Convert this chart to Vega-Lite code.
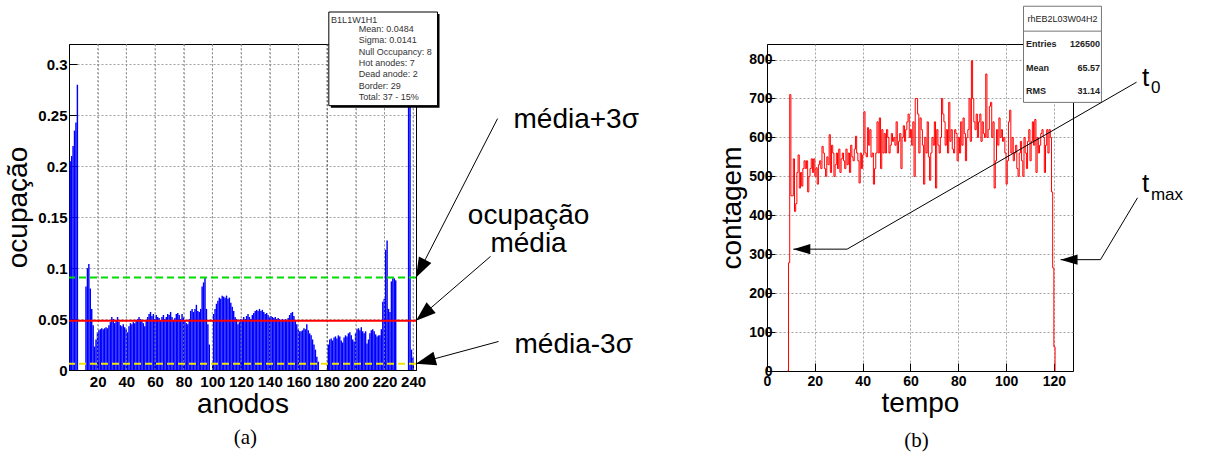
{
  "$schema": "https://vega.github.io/schema/vega-lite/v6.json",
  "padding": {"left": 4, "top": 5, "right": 10, "bottom": 8},
  "bounds": "flush",
  "spacing": 351,
  "config": {
    "font": "Liberation Sans",
    "view": {"stroke": "#000", "strokeWidth": 1},
    "axis": {
      "domainColor": "#000", "tickColor": "#000", "labelColor": "#000", "titleColor": "#000",
      "labelFont": "Liberation Sans", "labelFontWeight": "bold",
      "titleFont": "Liberation Sans", "titleFontWeight": "normal", "titleFontSize": 28,
      "gridColor": "#8c8c8c", "gridDash": [2, 2], "gridWidth": 0.8,
      "labelOverlap": false, "labelFlush": false
    }
  },
  "datasets": {
    "nota": [{}],
    "anodos": [
      {"anodo":0,"ocupacao":0.205},{"anodo":1,"ocupacao":0.21},{"anodo":2,"ocupacao":0.22},{"anodo":3,"ocupacao":0.235},{"anodo":4,"ocupacao":0.243},{"anodo":5,"ocupacao":0.28},
      {"anodo":6,"ocupacao":0},{"anodo":7,"ocupacao":0},{"anodo":8,"ocupacao":0},{"anodo":9,"ocupacao":0},{"anodo":10,"ocupacao":0},
      {"anodo":11,"ocupacao":0.082},{"anodo":12,"ocupacao":0.1},{"anodo":13,"ocupacao":0.104},{"anodo":14,"ocupacao":0.08},{"anodo":15,"ocupacao":0.06},
      {"anodo":16,"ocupacao":0.044},{"anodo":17,"ocupacao":0.023},{"anodo":18,"ocupacao":0.03},{"anodo":19,"ocupacao":0.037},{"anodo":20,"ocupacao":0.039},
      {"anodo":21,"ocupacao":0.04},{"anodo":22,"ocupacao":0.041},{"anodo":23,"ocupacao":0.04},{"anodo":24,"ocupacao":0.041},{"anodo":25,"ocupacao":0.042},
      {"anodo":26,"ocupacao":0.041},{"anodo":27,"ocupacao":0.044},{"anodo":28,"ocupacao":0.047},{"anodo":29,"ocupacao":0.052},{"anodo":30,"ocupacao":0.05},
      {"anodo":31,"ocupacao":0.046},{"anodo":32,"ocupacao":0.048},{"anodo":33,"ocupacao":0.052},{"anodo":34,"ocupacao":0.047},{"anodo":35,"ocupacao":0.044},
      {"anodo":36,"ocupacao":0.043},{"anodo":37,"ocupacao":0.045},{"anodo":38,"ocupacao":0.042},{"anodo":39,"ocupacao":0.04},{"anodo":40,"ocupacao":0.037},
      {"anodo":41,"ocupacao":0.043},{"anodo":42,"ocupacao":0.046},{"anodo":43,"ocupacao":0.045},{"anodo":44,"ocupacao":0.047},{"anodo":45,"ocupacao":0.046},
      {"anodo":46,"ocupacao":0.048},{"anodo":47,"ocupacao":0.05},{"anodo":48,"ocupacao":0.052},{"anodo":49,"ocupacao":0.05},{"anodo":50,"ocupacao":0.049},
      {"anodo":51,"ocupacao":0.046},{"anodo":52,"ocupacao":0.043},{"anodo":53,"ocupacao":0.048},{"anodo":54,"ocupacao":0.052},{"anodo":55,"ocupacao":0.055},
      {"anodo":56,"ocupacao":0.057},{"anodo":57,"ocupacao":0.053},{"anodo":58,"ocupacao":0.055},{"anodo":59,"ocupacao":0.05},{"anodo":60,"ocupacao":0.054},
      {"anodo":61,"ocupacao":0.052},{"anodo":62,"ocupacao":0.051},{"anodo":63,"ocupacao":0.049},{"anodo":64,"ocupacao":0.052},{"anodo":65,"ocupacao":0.054},
      {"anodo":66,"ocupacao":0.05},{"anodo":67,"ocupacao":0.052},{"anodo":68,"ocupacao":0.055},{"anodo":69,"ocupacao":0.054},{"anodo":70,"ocupacao":0.057},
      {"anodo":71,"ocupacao":0.052},{"anodo":72,"ocupacao":0.048},{"anodo":73,"ocupacao":0.051},{"anodo":74,"ocupacao":0.055},{"anodo":75,"ocupacao":0.056},
      {"anodo":76,"ocupacao":0.054},{"anodo":77,"ocupacao":0.05},{"anodo":78,"ocupacao":0.055},{"anodo":79,"ocupacao":0.052},{"anodo":80,"ocupacao":0.048},
      {"anodo":81,"ocupacao":0.046},{"anodo":82,"ocupacao":0.045},{"anodo":83,"ocupacao":0.05},{"anodo":84,"ocupacao":0.058},{"anodo":85,"ocupacao":0.06},
      {"anodo":86,"ocupacao":0.057},{"anodo":87,"ocupacao":0.06},{"anodo":88,"ocupacao":0.064},{"anodo":89,"ocupacao":0.058},{"anodo":90,"ocupacao":0.057},
      {"anodo":91,"ocupacao":0.06},{"anodo":92,"ocupacao":0.082},{"anodo":93,"ocupacao":0.086},{"anodo":94,"ocupacao":0.091},{"anodo":95,"ocupacao":0.06},
      {"anodo":96,"ocupacao":0.045},{"anodo":97,"ocupacao":0.025},{"anodo":98,"ocupacao":0},{"anodo":99,"ocupacao":0},{"anodo":100,"ocupacao":0.055},
      {"anodo":101,"ocupacao":0.06},{"anodo":102,"ocupacao":0.065},{"anodo":103,"ocupacao":0.068},{"anodo":104,"ocupacao":0.071},{"anodo":105,"ocupacao":0.07},
      {"anodo":106,"ocupacao":0.073},{"anodo":107,"ocupacao":0.072},{"anodo":108,"ocupacao":0.071},{"anodo":109,"ocupacao":0.073},{"anodo":110,"ocupacao":0.07},
      {"anodo":111,"ocupacao":0.071},{"anodo":112,"ocupacao":0.066},{"anodo":113,"ocupacao":0.062},{"anodo":114,"ocupacao":0.058},{"anodo":115,"ocupacao":0.052},
      {"anodo":116,"ocupacao":0.05},{"anodo":117,"ocupacao":0.045},{"anodo":118,"ocupacao":0.047},{"anodo":119,"ocupacao":0.05},{"anodo":120,"ocupacao":0.048},
      {"anodo":121,"ocupacao":0.052},{"anodo":122,"ocupacao":0.05},{"anodo":123,"ocupacao":0.053},{"anodo":124,"ocupacao":0.055},{"anodo":125,"ocupacao":0.052},
      {"anodo":126,"ocupacao":0.05},{"anodo":127,"ocupacao":0.054},{"anodo":128,"ocupacao":0.056},{"anodo":129,"ocupacao":0.058},{"anodo":130,"ocupacao":0.059},
      {"anodo":131,"ocupacao":0.058},{"anodo":132,"ocupacao":0.06},{"anodo":133,"ocupacao":0.058},{"anodo":134,"ocupacao":0.059},{"anodo":135,"ocupacao":0.057},
      {"anodo":136,"ocupacao":0.055},{"anodo":137,"ocupacao":0.056},{"anodo":138,"ocupacao":0.054},{"anodo":139,"ocupacao":0.052},{"anodo":140,"ocupacao":0.053},
      {"anodo":141,"ocupacao":0.052},{"anodo":142,"ocupacao":0.051},{"anodo":143,"ocupacao":0.052},{"anodo":144,"ocupacao":0.05},{"anodo":145,"ocupacao":0.051},
      {"anodo":146,"ocupacao":0.05},{"anodo":147,"ocupacao":0.049},{"anodo":148,"ocupacao":0.05},{"anodo":149,"ocupacao":0.048},{"anodo":150,"ocupacao":0.05},
      {"anodo":151,"ocupacao":0.049},{"anodo":152,"ocupacao":0.051},{"anodo":153,"ocupacao":0.054},{"anodo":154,"ocupacao":0.056},{"anodo":155,"ocupacao":0.057},
      {"anodo":156,"ocupacao":0.053},{"anodo":157,"ocupacao":0.049},{"anodo":158,"ocupacao":0.045},{"anodo":159,"ocupacao":0.04},{"anodo":160,"ocupacao":0.038},
      {"anodo":161,"ocupacao":0.038},{"anodo":162,"ocupacao":0.039},{"anodo":163,"ocupacao":0.041},{"anodo":164,"ocupacao":0.04},{"anodo":165,"ocupacao":0.045},
      {"anodo":166,"ocupacao":0.039},{"anodo":167,"ocupacao":0.036},{"anodo":168,"ocupacao":0.034},{"anodo":169,"ocupacao":0.03},{"anodo":170,"ocupacao":0.025},
      {"anodo":171,"ocupacao":0.02},{"anodo":172,"ocupacao":0.013},{"anodo":173,"ocupacao":0.008},{"anodo":174,"ocupacao":0},{"anodo":175,"ocupacao":0},
      {"anodo":176,"ocupacao":0},{"anodo":177,"ocupacao":0},{"anodo":178,"ocupacao":0},{"anodo":179,"ocupacao":0},{"anodo":180,"ocupacao":0.025},
      {"anodo":181,"ocupacao":0.03},{"anodo":182,"ocupacao":0.031},{"anodo":183,"ocupacao":0.029},{"anodo":184,"ocupacao":0.032},{"anodo":185,"ocupacao":0.033},
      {"anodo":186,"ocupacao":0.031},{"anodo":187,"ocupacao":0.034},{"anodo":188,"ocupacao":0.033},{"anodo":189,"ocupacao":0.029},{"anodo":190,"ocupacao":0.027},
      {"anodo":191,"ocupacao":0.032},{"anodo":192,"ocupacao":0.034},{"anodo":193,"ocupacao":0.033},{"anodo":194,"ocupacao":0.036},{"anodo":195,"ocupacao":0.037},
      {"anodo":196,"ocupacao":0.034},{"anodo":197,"ocupacao":0.03},{"anodo":198,"ocupacao":0.028},{"anodo":199,"ocupacao":0.036},{"anodo":200,"ocupacao":0.04},
      {"anodo":201,"ocupacao":0.041},{"anodo":202,"ocupacao":0.039},{"anodo":203,"ocupacao":0.042},{"anodo":204,"ocupacao":0.038},{"anodo":205,"ocupacao":0.036},
      {"anodo":206,"ocupacao":0.038},{"anodo":207,"ocupacao":0.026},{"anodo":208,"ocupacao":0.03},{"anodo":209,"ocupacao":0.036},{"anodo":210,"ocupacao":0.039},
      {"anodo":211,"ocupacao":0.04},{"anodo":212,"ocupacao":0.038},{"anodo":213,"ocupacao":0.035},{"anodo":214,"ocupacao":0.033},{"anodo":215,"ocupacao":0.034},
      {"anodo":216,"ocupacao":0.034},{"anodo":217,"ocupacao":0.04},{"anodo":218,"ocupacao":0.067},{"anodo":219,"ocupacao":0.07},{"anodo":220,"ocupacao":0.118},
      {"anodo":221,"ocupacao":0.127},{"anodo":222,"ocupacao":0.06},{"anodo":223,"ocupacao":0.057},{"anodo":224,"ocupacao":0.087},{"anodo":225,"ocupacao":0.09},
      {"anodo":226,"ocupacao":0.09},{"anodo":227,"ocupacao":0.088},{"anodo":228,"ocupacao":0},{"anodo":229,"ocupacao":0},{"anodo":230,"ocupacao":0},
      {"anodo":231,"ocupacao":0},{"anodo":232,"ocupacao":0},{"anodo":233,"ocupacao":0},{"anodo":234,"ocupacao":0},{"anodo":235,"ocupacao":0},
      {"anodo":236,"ocupacao":0.3},{"anodo":237,"ocupacao":0.3},{"anodo":238,"ocupacao":0.02},{"anodo":239,"ocupacao":0.012},{"anodo":240,"ocupacao":0},
      {"anodo":241,"ocupacao":0}
    ],
    "tempo": [
      {"t":8.5,"contagem":0},{"t":9,"contagem":278},{"t":9.5,"contagem":710},{"t":10,"contagem":450},{"t":10.5,"contagem":450},
      {"t":11,"contagem":545},{"t":11.5,"contagem":410},{"t":12,"contagem":430},{"t":12.5,"contagem":510},{"t":13,"contagem":555},
      {"t":13.5,"contagem":470},{"t":14,"contagem":510},{"t":14.5,"contagem":475},{"t":15,"contagem":520},{"t":15.5,"contagem":540},
      {"t":16,"contagem":520},{"t":16.5,"contagem":540},{"t":17,"contagem":460},{"t":17.5,"contagem":500},{"t":18,"contagem":520},
      {"t":18.5,"contagem":545},{"t":19,"contagem":510},{"t":19.5,"contagem":545},{"t":20,"contagem":500},{"t":20.5,"contagem":522},
      {"t":21,"contagem":480},{"t":21.5,"contagem":530},{"t":22,"contagem":540},{"t":22.5,"contagem":520},{"t":23,"contagem":577},
      {"t":23.5,"contagem":560},{"t":24,"contagem":520},{"t":24.5,"contagem":500},{"t":25,"contagem":550},{"t":25.5,"contagem":530},
      {"t":26,"contagem":607},{"t":26.5,"contagem":510},{"t":27,"contagem":580},{"t":27.5,"contagem":560},{"t":28,"contagem":500},
      {"t":28.5,"contagem":530},{"t":29,"contagem":560},{"t":29.5,"contagem":520},{"t":30,"contagem":570},{"t":30.5,"contagem":510},
      {"t":31,"contagem":545},{"t":31.5,"contagem":560},{"t":32,"contagem":540},{"t":32.5,"contagem":520},{"t":33,"contagem":570},
      {"t":33.5,"contagem":530},{"t":34,"contagem":560},{"t":34.5,"contagem":510},{"t":35,"contagem":580},{"t":35.5,"contagem":550},
      {"t":36,"contagem":540},{"t":36.5,"contagem":570},{"t":37,"contagem":603},{"t":37.5,"contagem":560},{"t":38,"contagem":540},
      {"t":38.5,"contagem":483},{"t":39,"contagem":560},{"t":39.5,"contagem":520},{"t":40,"contagem":555},{"t":40.5,"contagem":666},
      {"t":41,"contagem":560},{"t":41.5,"contagem":550},{"t":42,"contagem":625},{"t":42.5,"contagem":580},{"t":43,"contagem":620},
      {"t":43.5,"contagem":550},{"t":44,"contagem":560},{"t":44.5,"contagem":480},{"t":45,"contagem":520},{"t":45.5,"contagem":560},
      {"t":46,"contagem":640},{"t":46.5,"contagem":560},{"t":47,"contagem":650},{"t":47.5,"contagem":520},{"t":48,"contagem":620},
      {"t":48.5,"contagem":560},{"t":49,"contagem":610},{"t":49.5,"contagem":560},{"t":50,"contagem":620},{"t":50.5,"contagem":600},
      {"t":51,"contagem":560},{"t":51.5,"contagem":580},{"t":52,"contagem":610},{"t":52.5,"contagem":590},{"t":53,"contagem":600},
      {"t":53.5,"contagem":580},{"t":54,"contagem":640},{"t":54.5,"contagem":560},{"t":55,"contagem":590},{"t":55.5,"contagem":610},
      {"t":56,"contagem":520},{"t":56.5,"contagem":600},{"t":57,"contagem":630},{"t":57.5,"contagem":590},{"t":58,"contagem":620},
      {"t":58.5,"contagem":640},{"t":59,"contagem":660},{"t":59.5,"contagem":600},{"t":60,"contagem":620},{"t":60.5,"contagem":580},
      {"t":61,"contagem":640},{"t":61.5,"contagem":500},{"t":62,"contagem":700},{"t":62.5,"contagem":700},{"t":63,"contagem":660},
      {"t":63.5,"contagem":560},{"t":64,"contagem":650},{"t":64.5,"contagem":620},{"t":65,"contagem":580},{"t":65.5,"contagem":480},
      {"t":66,"contagem":600},{"t":66.5,"contagem":560},{"t":67,"contagem":640},{"t":67.5,"contagem":550},{"t":68,"contagem":490},
      {"t":68.5,"contagem":560},{"t":69,"contagem":600},{"t":69.5,"contagem":580},{"t":70,"contagem":640},{"t":70.5,"contagem":470},
      {"t":71,"contagem":620},{"t":71.5,"contagem":580},{"t":72,"contagem":560},{"t":72.5,"contagem":600},{"t":73,"contagem":700},
      {"t":73.5,"contagem":660},{"t":74,"contagem":640},{"t":74.5,"contagem":580},{"t":75,"contagem":620},{"t":75.5,"contagem":560},
      {"t":76,"contagem":690},{"t":76.5,"contagem":590},{"t":77,"contagem":620},{"t":77.5,"contagem":570},{"t":78,"contagem":560},
      {"t":78.5,"contagem":620},{"t":79,"contagem":610},{"t":79.5,"contagem":540},{"t":80,"contagem":600},{"t":80.5,"contagem":560},
      {"t":81,"contagem":640},{"t":81.5,"contagem":580},{"t":82,"contagem":650},{"t":82.5,"contagem":610},{"t":83,"contagem":540},
      {"t":83.5,"contagem":600},{"t":84,"contagem":620},{"t":84.5,"contagem":700},{"t":85,"contagem":590},{"t":85.5,"contagem":797},
      {"t":86,"contagem":700},{"t":86.5,"contagem":640},{"t":87,"contagem":620},{"t":87.5,"contagem":660},{"t":88,"contagem":600},
      {"t":88.5,"contagem":640},{"t":89,"contagem":660},{"t":89.5,"contagem":590},{"t":90,"contagem":640},{"t":90.5,"contagem":610},
      {"t":91,"contagem":600},{"t":91.5,"contagem":763},{"t":92,"contagem":600},{"t":92.5,"contagem":620},{"t":93,"contagem":680},
      {"t":93.5,"contagem":690},{"t":94,"contagem":600},{"t":94.5,"contagem":640},{"t":95,"contagem":470},{"t":95.5,"contagem":540},
      {"t":96,"contagem":620},{"t":96.5,"contagem":580},{"t":97,"contagem":650},{"t":97.5,"contagem":600},{"t":98,"contagem":620},
      {"t":98.5,"contagem":590},{"t":99,"contagem":600},{"t":99.5,"contagem":560},{"t":100,"contagem":480},{"t":100.5,"contagem":540},
      {"t":101,"contagem":640},{"t":101.5,"contagem":670},{"t":102,"contagem":560},{"t":102.5,"contagem":600},{"t":103,"contagem":540},
      {"t":103.5,"contagem":560},{"t":104,"contagem":580},{"t":104.5,"contagem":520},{"t":105,"contagem":500},{"t":105.5,"contagem":560},
      {"t":106,"contagem":590},{"t":106.5,"contagem":540},{"t":107,"contagem":500},{"t":107.5,"contagem":600},{"t":108,"contagem":560},
      {"t":108.5,"contagem":520},{"t":109,"contagem":590},{"t":109.5,"contagem":620},{"t":110,"contagem":540},{"t":110.5,"contagem":590},
      {"t":111,"contagem":640},{"t":111.5,"contagem":580},{"t":112,"contagem":646},{"t":112.5,"contagem":510},{"t":113,"contagem":600},
      {"t":113.5,"contagem":560},{"t":114,"contagem":580},{"t":114.5,"contagem":610},{"t":115,"contagem":620},{"t":115.5,"contagem":600},
      {"t":116,"contagem":510},{"t":116.5,"contagem":580},{"t":117,"contagem":620},{"t":117.5,"contagem":560},{"t":118,"contagem":620},
      {"t":118.5,"contagem":600},{"t":119,"contagem":460},{"t":119.5,"contagem":265},{"t":120,"contagem":62},{"t":120.5,"contagem":0}
    ]
  },
  "hconcat": [
    {
      "width": 347,
      "height": 326,
      "layer": [
        {
          "data": {"name": "anodos"},
          "mark": {"type": "bar", "color": "#0000ff", "binSpacing": 0},
          "encoding": {
            "x": {
              "field": "anodo", "type": "quantitative", "bin": {"binned": true, "step": 1},
              "scale": {"domain": [0, 242], "nice": false, "zero": false},
              "axis": {
                "title": "anodos", "format": "d", "grid": true,
                "values": [20, 40, 60, 80, 100, 120, 140, 160, 180, 200, 220, 240],
                "tickSize": -8,
                "labelFontSize": 15, "labelPadding": 12, "titlePadding": 1
              }
            },
            "y": {
              "field": "ocupacao", "type": "quantitative",
              "scale": {"domain": [0, 0.32], "nice": false},
              "axis": {
                "title": "ocupação", "format": ".2~f", "grid": true,
                "values": [0, 0.05, 0.1, 0.15, 0.2, 0.25, 0.3],
                "tickSize": -8,
                "labelFontSize": 15, "labelPadding": 10, "titlePadding": 5
              }
            }
          }
        },
        {"data": {"name": "nota"}, "mark": {"type": "rule", "color": "#8c8c8c", "strokeDash": [2, 2], "strokeWidth": 0.8}, "encoding": {"x": {"datum": 20}}},
        {"data": {"name": "nota"}, "mark": {"type": "rule", "color": "#8c8c8c", "strokeDash": [2, 2], "strokeWidth": 0.8}, "encoding": {"x": {"datum": 40}}},
        {"data": {"name": "nota"}, "mark": {"type": "rule", "color": "#8c8c8c", "strokeDash": [2, 2], "strokeWidth": 0.8}, "encoding": {"x": {"datum": 60}}},
        {"data": {"name": "nota"}, "mark": {"type": "rule", "color": "#8c8c8c", "strokeDash": [2, 2], "strokeWidth": 0.8}, "encoding": {"x": {"datum": 80}}},
        {"data": {"name": "nota"}, "mark": {"type": "rule", "color": "#8c8c8c", "strokeDash": [2, 2], "strokeWidth": 0.8}, "encoding": {"x": {"datum": 100}}},
        {"data": {"name": "nota"}, "mark": {"type": "rule", "color": "#8c8c8c", "strokeDash": [2, 2], "strokeWidth": 0.8}, "encoding": {"x": {"datum": 120}}},
        {"data": {"name": "nota"}, "mark": {"type": "rule", "color": "#8c8c8c", "strokeDash": [2, 2], "strokeWidth": 0.8}, "encoding": {"x": {"datum": 140}}},
        {"data": {"name": "nota"}, "mark": {"type": "rule", "color": "#8c8c8c", "strokeDash": [2, 2], "strokeWidth": 0.8}, "encoding": {"x": {"datum": 160}}},
        {"data": {"name": "nota"}, "mark": {"type": "rule", "color": "#333", "strokeDash": [2, 2], "strokeWidth": 0.8}, "encoding": {"x": {"datum": 180}}},
        {"data": {"name": "nota"}, "mark": {"type": "rule", "color": "#8c8c8c", "strokeDash": [2, 2], "strokeWidth": 0.8}, "encoding": {"x": {"datum": 200}}},
        {"data": {"name": "nota"}, "mark": {"type": "rule", "color": "#8c8c8c", "strokeDash": [2, 2], "strokeWidth": 0.8}, "encoding": {"x": {"datum": 220}}},
        {"data": {"name": "nota"}, "mark": {"type": "rule", "color": "#8c8c8c", "strokeDash": [2, 2], "strokeWidth": 0.8}, "encoding": {"x": {"datum": 240}}},
        {"data": {"name": "nota"}, "mark": {"type": "rule", "color": "#00dd00", "strokeDash": [7, 4], "strokeWidth": 2}, "encoding": {"y": {"datum": 0.0907}}},
        {"data": {"name": "nota"}, "mark": {"type": "rule", "color": "#ff0000", "strokeWidth": 2}, "encoding": {"y": {"datum": 0.0484}}},
        {"data": {"name": "nota"}, "mark": {"type": "rule", "color": "#f2e600", "strokeDash": [7, 4], "strokeWidth": 2}, "encoding": {"y": {"datum": 0.0061}}},
        {"data": {"name": "nota"}, "mark": {"type": "rect", "fill": "#000"}, "encoding": {"x": {"datum": 182.6}, "x2": {"datum": 258.4}, "y": {"datum": 0.2575}, "y2": {"datum": 0.3494}}},
        {"data": {"name": "nota"}, "mark": {"type": "rect", "fill": "#fff", "stroke": "#000", "strokeWidth": 1}, "encoding": {"x": {"datum": 181.2}, "x2": {"datum": 257}, "y": {"datum": 0.2595}, "y2": {"datum": 0.3514}}},
        {"data": {"name": "nota"}, "mark": {"type": "text", "text": "B1L1W1H1", "align": "left", "baseline": "middle", "fontSize": 9, "color": "#333"}, "encoding": {"x": {"datum": 182.8}, "y": {"datum": 0.3431}}},
        {"data": {"name": "nota"}, "mark": {"type": "text", "text": ["Mean: 0.0484", "Sigma: 0.0141", "Null Occupancy: 8", "Hot anodes: 7", "Dead anode: 2", "Border: 29", "Total: 37 - 15%"], "align": "left", "baseline": "top", "fontSize": 9, "lineHeight": 11.3, "color": "#333"}, "encoding": {"x": {"datum": 202.1}, "y": {"datum": 0.3385}}},
        {"data": {"name": "nota"}, "mark": {"type": "rule", "color": "#000", "strokeWidth": 1}, "encoding": {"x": {"datum": 298.9}, "y": {"datum": 0.2468}, "x2": {"datum": 242}, "y2": {"datum": 0.0907}}},
        {"data": {"name": "nota"}, "mark": {"type": "rule", "color": "#000", "strokeWidth": 1}, "encoding": {"x": {"datum": 294}, "y": {"datum": 0.1115}, "x2": {"datum": 242}, "y2": {"datum": 0.0484}}},
        {"data": {"name": "nota"}, "mark": {"type": "rule", "color": "#000", "strokeWidth": 1}, "encoding": {"x": {"datum": 299.6}, "y": {"datum": 0.028}, "x2": {"datum": 242}, "y2": {"datum": 0.0061}}},
        {"data": {"name": "nota"}, "mark": {"type": "point", "shape": "M0,0L2,-0.7L2,0.7Z", "filled": true, "color": "#000", "opacity": 1, "size": 400, "angle": -62.9}, "encoding": {"x": {"datum": 242}, "y": {"datum": 0.0907}}},
        {"data": {"name": "nota"}, "mark": {"type": "point", "shape": "M0,0L2,-0.7L2,0.7Z", "filled": true, "color": "#000", "opacity": 1, "size": 400, "angle": -40.8}, "encoding": {"x": {"datum": 242}, "y": {"datum": 0.0484}}},
        {"data": {"name": "nota"}, "mark": {"type": "point", "shape": "M0,0L2,-0.7L2,0.7Z", "filled": true, "color": "#000", "opacity": 1, "size": 400, "angle": -15.3}, "encoding": {"x": {"datum": 242}, "y": {"datum": 0.0061}}},
        {"data": {"name": "nota"}, "mark": {"type": "text", "text": "média+3σ", "align": "left", "baseline": "middle", "fontSize": 28, "color": "#000"}, "encoding": {"x": {"datum": 310}, "y": {"datum": 0.2458}}},
        {"data": {"name": "nota"}, "mark": {"type": "text", "text": "ocupação", "align": "center", "baseline": "middle", "fontSize": 28, "color": "#000"}, "encoding": {"x": {"datum": 320.5}, "y": {"datum": 0.1507}}},
        {"data": {"name": "nota"}, "mark": {"type": "text", "text": "média", "align": "center", "baseline": "middle", "fontSize": 28, "color": "#000"}, "encoding": {"x": {"datum": 320.5}, "y": {"datum": 0.1232}}},
        {"data": {"name": "nota"}, "mark": {"type": "text", "text": "média-3σ", "align": "left", "baseline": "middle", "fontSize": 28, "color": "#000"}, "encoding": {"x": {"datum": 310.7}, "y": {"datum": 0.0242}}},
        {"data": {"name": "nota"}, "mark": {"type": "text", "text": "(a)", "font": "Liberation Serif", "align": "center", "baseline": "middle", "fontSize": 21, "color": "#000"}, "encoding": {"x": {"datum": 123}, "y": {"datum": -0.067}}}
      ]
    },
    {
      "width": 306,
      "height": 327,
      "layer": [
        {
          "data": {"name": "tempo"},
          "mark": {"type": "line", "color": "#ff0000", "strokeWidth": 1, "interpolate": "step-after"},
          "encoding": {
            "x": {
              "field": "t", "type": "quantitative",
              "scale": {"domain": [0, 128], "nice": false, "zero": false},
              "axis": {
                "title": "tempo", "format": "d",
                "values": [0, 5, 10, 15, 20, 25, 30, 35, 40, 45, 50, 55, 60, 65, 70, 75, 80, 85, 90, 95, 100, 105, 110, 115, 120, 125],
                "labelExpr": "datum.value % 20 == 0 ? datum.label : ''",
                "tickSize": {"condition": {"test": "datum.value % 20 == 0", "value": -8}, "value": -5},
                "gridOpacity": {"condition": {"test": "datum.value % 20 == 0", "value": 1}, "value": 0},
                "labelFontSize": 14, "labelPadding": 11, "titlePadding": 1
              }
            },
            "y": {
              "field": "contagem", "type": "quantitative",
              "scale": {"domain": [0, 840], "nice": false},
              "axis": {
                "title": "contagem", "format": "d",
                "values": [0, 25, 50, 75, 100, 125, 150, 175, 200, 225, 250, 275, 300, 325, 350, 375, 400, 425, 450, 475, 500, 525, 550, 575, 600, 625, 650, 675, 700, 725, 750, 775, 800, 825],
                "labelExpr": "datum.value % 100 == 0 ? datum.label : ''",
                "tickSize": {"condition": {"test": "datum.value % 100 == 0", "value": -8}, "value": -5},
                "gridOpacity": {"condition": {"test": "datum.value % 100 == 0", "value": 1}, "value": 0},
                "labelFontSize": 14, "labelPadding": 3, "titlePadding": 2
              }
            }
          }
        },
        {"data": {"name": "nota"}, "mark": {"type": "rect", "fill": "#fff", "stroke": "#777", "strokeWidth": 1}, "encoding": {"x": {"datum": 107.3}, "x2": {"datum": 139.9}, "y": {"datum": 690}, "y2": {"datum": 937}}},
        {"data": {"name": "nota"}, "mark": {"type": "rule", "color": "#777", "strokeWidth": 1}, "encoding": {"x": {"datum": 107.3}, "x2": {"datum": 139.9}, "y": {"datum": 873}}},
        {"data": {"name": "nota"}, "mark": {"type": "text", "text": "rhEB2L03W04H2", "align": "center", "baseline": "middle", "fontSize": 9, "color": "#222"}, "encoding": {"x": {"datum": 123.6}, "y": {"datum": 903.5}}},
        {"data": {"name": "nota"}, "mark": {"type": "text", "text": "Entries", "align": "left", "baseline": "middle", "fontSize": 9, "fontWeight": "bold", "color": "#222"}, "encoding": {"x": {"datum": 108.3}, "y": {"datum": 839}}},
        {"data": {"name": "nota"}, "mark": {"type": "text", "text": "126500", "align": "right", "baseline": "middle", "fontSize": 9, "fontWeight": "bold", "color": "#222"}, "encoding": {"x": {"datum": 139.3}, "y": {"datum": 839}}},
        {"data": {"name": "nota"}, "mark": {"type": "text", "text": "Mean", "align": "left", "baseline": "middle", "fontSize": 9, "fontWeight": "bold", "color": "#222"}, "encoding": {"x": {"datum": 108.3}, "y": {"datum": 778}}},
        {"data": {"name": "nota"}, "mark": {"type": "text", "text": "65.57", "align": "right", "baseline": "middle", "fontSize": 9, "fontWeight": "bold", "color": "#222"}, "encoding": {"x": {"datum": 139.3}, "y": {"datum": 778}}},
        {"data": {"name": "nota"}, "mark": {"type": "text", "text": "RMS", "align": "left", "baseline": "middle", "fontSize": 9, "fontWeight": "bold", "color": "#222"}, "encoding": {"x": {"datum": 108.3}, "y": {"datum": 719}}},
        {"data": {"name": "nota"}, "mark": {"type": "text", "text": "31.14", "align": "right", "baseline": "middle", "fontSize": 9, "fontWeight": "bold", "color": "#222"}, "encoding": {"x": {"datum": 139.3}, "y": {"datum": 719}}},
        {"data": {"name": "nota"}, "mark": {"type": "rule", "color": "#000", "strokeWidth": 1}, "encoding": {"x": {"datum": 154.6}, "y": {"datum": 742}, "x2": {"datum": 33.5}, "y2": {"datum": 313}}},
        {"data": {"name": "nota"}, "mark": {"type": "rule", "color": "#000", "strokeWidth": 1}, "encoding": {"x": {"datum": 33.5}, "y": {"datum": 313}, "x2": {"datum": 11}, "y2": {"datum": 313}}},
        {"data": {"name": "nota"}, "mark": {"type": "rule", "color": "#000", "strokeWidth": 1}, "encoding": {"x": {"datum": 155}, "y": {"datum": 445}, "x2": {"datum": 139.5}, "y2": {"datum": 286}}},
        {"data": {"name": "nota"}, "mark": {"type": "rule", "color": "#000", "strokeWidth": 1}, "encoding": {"x": {"datum": 139.5}, "y": {"datum": 286}, "x2": {"datum": 122.8}, "y2": {"datum": 286}}},
        {"data": {"name": "nota"}, "mark": {"type": "point", "shape": "M0,0L2,-0.6L2,0.6Z", "filled": true, "color": "#000", "opacity": 1, "size": 289, "angle": 0}, "encoding": {"x": {"datum": 11}, "y": {"datum": 313}}},
        {"data": {"name": "nota"}, "mark": {"type": "point", "shape": "M0,0L2,-0.6L2,0.6Z", "filled": true, "color": "#000", "opacity": 1, "size": 289, "angle": 0}, "encoding": {"x": {"datum": 122.8}, "y": {"datum": 286}}},
        {"data": {"name": "nota"}, "mark": {"type": "text", "text": "t", "align": "center", "baseline": "middle", "fontSize": 26, "color": "#000"}, "encoding": {"x": {"datum": 158.4}, "y": {"datum": 752}}},
        {"data": {"name": "nota"}, "mark": {"type": "text", "text": "0", "align": "left", "baseline": "middle", "fontSize": 17, "color": "#000"}, "encoding": {"x": {"datum": 160.6}, "y": {"datum": 727}}},
        {"data": {"name": "nota"}, "mark": {"type": "text", "text": "t", "align": "center", "baseline": "middle", "fontSize": 26, "color": "#000"}, "encoding": {"x": {"datum": 158.4}, "y": {"datum": 481}}},
        {"data": {"name": "nota"}, "mark": {"type": "text", "text": "max", "align": "left", "baseline": "middle", "fontSize": 17, "color": "#000"}, "encoding": {"x": {"datum": 160.6}, "y": {"datum": 453}}},
        {"data": {"name": "nota"}, "mark": {"type": "text", "text": "(b)", "font": "Liberation Serif", "align": "center", "baseline": "middle", "fontSize": 21, "color": "#000"}, "encoding": {"x": {"datum": 62.5}, "y": {"datum": -179}}}
      ]
    }
  ]
}
